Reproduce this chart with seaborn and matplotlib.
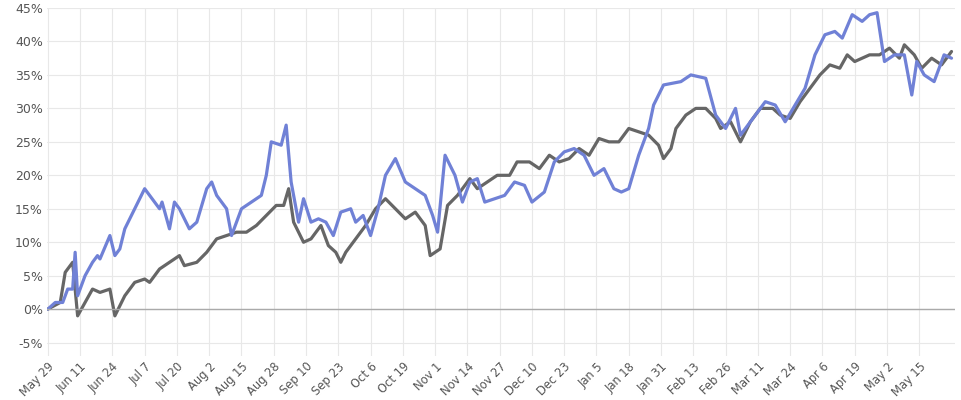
import numpy as np
import pandas as pd
import matplotlib
matplotlib.use("Agg")
import matplotlib.pyplot as plt
import seaborn as sns

start = pd.Timestamp("2022-05-29")

blue_days = [0, 3, 6, 8, 10, 11, 12, 15, 18, 20, 21, 25, 27, 29, 31, 35, 39, 41, 45, 46, 49, 51, 53, 57, 60,
             64, 66, 68, 72, 74, 78, 82, 86, 88, 90, 94, 96, 98, 101, 103, 106, 109, 112, 115, 118, 122, 124,
             127, 130, 133, 136, 140, 144, 148, 152, 155, 157, 160, 164, 167, 170, 173, 176, 180, 184, 188,
             192, 195, 200, 204, 208, 212, 216, 220, 224, 228, 231, 234, 238, 242, 244, 248, 255, 259, 265,
             269, 273, 277, 279, 281, 285, 289, 293, 297, 301, 305, 309, 313, 317, 320, 324, 328, 331, 334,
             337, 341, 345, 348, 350, 353, 357, 361, 364]
blue_vals = [0, 1, 1, 3, 3, 8.5, 2, 5, 7, 8, 7.5, 11, 8, 9, 12, 15, 18, 17, 15, 16, 12, 16, 15, 12, 13,
             18, 19, 17, 15, 11, 15, 16, 17, 20, 25, 24.5, 27.5, 19, 13, 16.5, 13, 13.5, 13, 11, 14.5, 15, 13,
             14, 11, 15, 20, 22.5, 19, 18, 17, 14, 11.5, 23, 20, 16, 19, 19.5, 16, 16.5, 17, 19,
             18.5, 16, 17.5, 22, 23.5, 24, 23, 20, 21, 18, 17.5, 18, 23, 27, 30.5, 33.5, 34, 35, 34.5,
             29, 27, 30, 26, 27, 29, 31, 30.5, 28, 30.5, 33, 38, 41, 41.5, 40.5, 44, 43, 44, 44.3,
             37, 38, 38, 32, 37, 35, 34, 38, 37.5]

gray_days = [0, 5, 7, 10, 12, 15, 18, 21, 25, 27, 29, 31, 35, 39, 41, 45, 49, 53, 55, 60, 64, 68, 72, 76, 80,
             84, 88, 92, 95, 97, 99, 103, 106, 110, 113, 116, 118, 120, 124, 128, 132, 136, 140, 144, 148,
             152, 154, 158, 161, 165, 170, 173, 177, 181, 186, 189, 194, 198, 202, 206, 210, 214, 218, 222,
             226, 230, 234, 238, 242, 246, 248, 251, 253, 257, 261, 265, 269, 271, 275, 279, 283, 287, 292,
             295, 299, 303, 307, 311, 315, 319, 322, 325, 328, 331, 335, 339, 343, 345, 349, 352, 356, 360, 364]
gray_vals = [0, 1, 5.5, 7, -1, 1, 3, 2.5, 3, -1, 0.5, 2, 4, 4.5, 4, 6, 7, 8, 6.5, 7, 8.5, 10.5, 11, 11.5, 11.5,
             12.5, 14, 15.5, 15.5, 18, 13, 10, 10.5, 12.5, 9.5, 8.5, 7, 8.5, 10.5, 12.5, 15, 16.5, 15, 13.5, 14.5,
             12.5, 8, 9, 15.5, 17, 19.5, 18, 19, 20, 20, 22, 22, 21, 23, 22, 22.5, 24, 23, 25.5,
             25, 25, 27, 26.5, 26, 24.5, 22.5, 24, 27, 29, 30, 30, 28.5, 27, 28, 25, 28, 30, 30,
             29, 28.5, 31, 33, 35, 36.5, 36, 38, 37, 37.5, 38, 38, 39, 37.5, 39.5, 38, 36, 37.5, 36.5, 38.5]

blue = pd.DataFrame({"date": start + pd.to_timedelta(blue_days, unit="D"), "value": blue_vals})
gray = pd.DataFrame({"date": start + pd.to_timedelta(gray_days, unit="D"), "value": gray_vals})

sns.set_style("white")
plt.rcParams['font.family'] = ['DejaVu Sans']
fig = plt.figure(figsize=(9.61, 4), dpi=100)
ax = fig.add_axes([0.049, 0.11, 0.945, 0.87])

sns.lineplot(data=gray, x="date", y="value", ax=ax, color="#666666", lw=2.3)
sns.lineplot(data=blue, x="date", y="value", ax=ax, color="#7081d6", lw=2.3)

ax.set_xlim(start - pd.Timedelta(days=0.3), start + pd.Timedelta(days=365.5))
ax.set_ylim(-7, 45)
ax.set_yticks(np.arange(-5, 46, 5))
ax.set_yticklabels([f"{v}%" for v in range(-5, 46, 5)], fontsize=9, color="#555555")
ticks = [start + pd.Timedelta(days=13 * i) for i in range(28)]
ax.set_xticks(ticks)
ax.set_xticklabels([t.strftime("%b %-d") for t in ticks], rotation=45, ha="right",
                   rotation_mode="anchor", fontsize=8.3, color="#555555")
ax.grid(True, color="#e8e8e8", lw=0.8)
ax.axhline(0, color="#aaaaaa", lw=1)
ax.set_xlabel("")
ax.set_ylabel("")
ax.tick_params(length=0, pad=3)
for s in ax.spines.values():
    s.set_visible(False)

fig.savefig("out.png", dpi=100)
